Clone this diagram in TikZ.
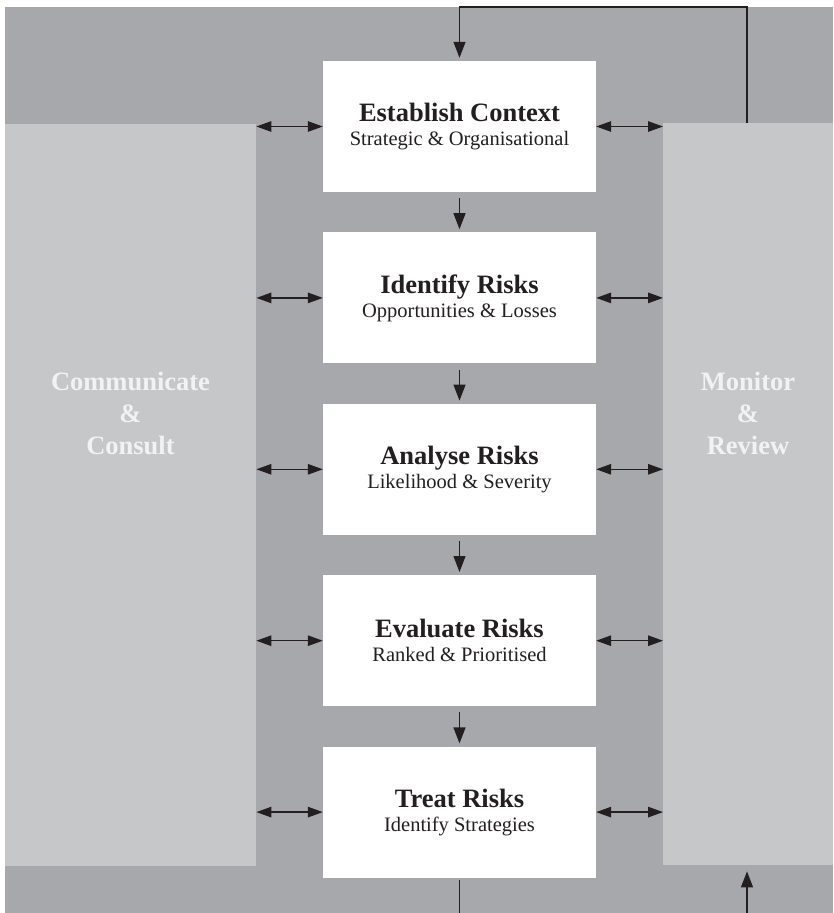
\documentclass[tikz,border=0pt]{standalone}
\usepackage{fontspec}
\setmainfont{Liberation Serif}
\usetikzlibrary{positioning,arrows.meta}
\definecolor{backColor}{RGB}{167,168,171}
\definecolor{panelColor}{RGB}{198,199,201}
\definecolor{inkColor}{RGB}{35,31,32}
\definecolor{panelTextColor}{RGB}{242,242,242}
\tikzstyle{diagram} = [x = 1pt, y = -1pt, node distance = 40pt]
\tikzstyle{stepBox} = [fill=white, minimum width=273pt, minimum height=131pt, inner sep=0pt, align=center, text=inkColor, font=\fontsize{20.5}{24}\selectfont]
\tikzstyle{sidePanel} = [fill=panelColor, inner sep=0pt, anchor=north west]
\tikzstyle{panelText} = [text=panelTextColor, align=center, font=\fontsize{26.5}{32}\selectfont\bfseries]
\tikzstyle{plainLine} = [color=inkColor, line width=1.3pt]
\tikzstyle{flowLine} = [plainLine, -{Triangle[length=16pt, width=12pt]}]
\tikzstyle{linkLine} = [plainLine, {Triangle[length=15pt, width=10.5pt]}-{Triangle[length=15pt, width=10.5pt]}]
\newcommand{\stepText}[2]{{\bfseries\fontsize{26.5}{24}\selectfont #1}\\#2}
\begin{document}
\begin{tikzpicture}[diagram]
      \useasboundingbox (0,0) rectangle (833,913);
      \fill[backColor] (5,7) rectangle (833,913);

      \node[sidePanel, minimum width=251pt, minimum height=742pt] (communicate) at (5,124) {};
      \node[sidePanel, minimum width=170pt, minimum height=742pt] (monitor) at (663,123) {};
      \node[panelText] (communicateText) at (130.5,413) {Communicate\\\&\\Consult};
      \node[panelText] (monitorText) at (748,413) {Monitor\\\&\\Review};

      \node[stepBox] (context) at (459.5,126.5) {\stepText{Establish Context}{Strategic \& Organisational}};
      \node[stepBox, below = of context] (identify) {\stepText{Identify Risks}{Opportunities \& Losses}};
      \node[stepBox, below = of identify] (analyse) {\stepText{Analyse Risks}{Likelihood \& Severity}};
      \node[stepBox, below = of analyse] (evaluate) {\stepText{Evaluate Risks}{Ranked \& Prioritised}};
      \node[stepBox, below = of evaluate] (treat) {\stepText{Treat Risks}{Identify Strategies}};

      \foreach \step in {context, identify, analyse, evaluate, treat} {
        \draw[linkLine] (communicate.east |- \step.west) -- (\step.west);
        \draw[linkLine] (\step.east) -- (monitor.west |- \step.east);
      }

      \draw[flowLine, shorten <=6pt, shorten >=3pt] (context) -- (identify);
      \draw[flowLine, shorten <=6pt, shorten >=3pt] (identify) -- (analyse);
      \draw[flowLine, shorten <=6pt, shorten >=3pt] (analyse) -- (evaluate);
      \draw[flowLine, shorten <=6pt, shorten >=3pt] (evaluate) -- (treat);

      \coordinate (topLeft) at (459.5,7);
      \coordinate (topRight) at (747,7);
      \coordinate (bottomLeft) at (459.5,913);
      \coordinate (bottomRight) at (747,913);
      \draw[flowLine, shorten >=3pt] (monitor.north -| topRight) -- (topRight) -- (topLeft) -- (context.north);
      \draw[plainLine, shorten <=2pt] (treat.south) -- (bottomLeft);
      \draw[flowLine, shorten >=6pt] (bottomRight) -- (monitor.south -| bottomRight);
\end{tikzpicture}
\end{document}
